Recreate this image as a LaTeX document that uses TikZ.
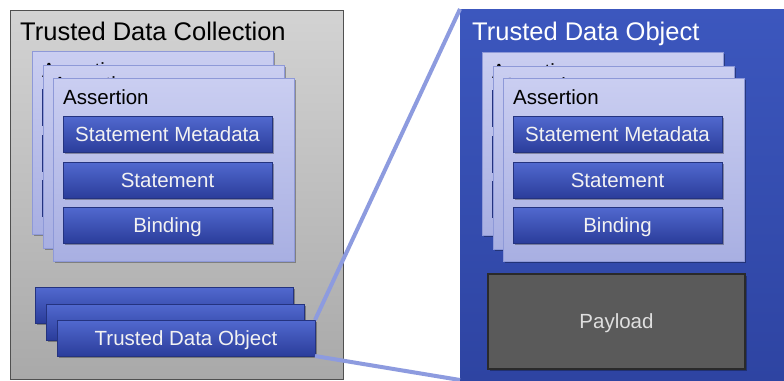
\documentclass[tikz,border=0pt]{standalone}
\usepackage{fontspec}
\setmainfont{Liberation Sans}
\usetikzlibrary{shadows}

\definecolor{grayTop}{HTML}{D3D3D3}
\definecolor{grayBot}{HTML}{A9A9A9}
\definecolor{grayEdge}{HTML}{505050}
\definecolor{blueTop}{HTML}{3C57BE}
\definecolor{blueBot}{HTML}{2E44A2}
\definecolor{cardTop}{HTML}{CACEF1}
\definecolor{cardBot}{HTML}{A8AFE2}
\definecolor{cardEdge}{HTML}{8E99D8}
\definecolor{barTop}{HTML}{5169CF}
\definecolor{barBot}{HTML}{2B3D9B}
\definecolor{barEdge}{HTML}{24337F}
\definecolor{zoomLine}{HTML}{8D9BDF}
\definecolor{payloadFill}{HTML}{5A5A5A}
\definecolor{payloadEdge}{HTML}{2A2A2A}
\definecolor{lightText}{HTML}{F2F2F2}

\tikzset{
  box/.style={anchor=north west, inner sep=0pt, outer sep=0pt},
  softshadow/.style={drop shadow={shadow xshift=1.5pt, shadow yshift=-1.5pt,
      opacity=0.3, fill=black}},
  card/.style={box, minimum width=241pt, minimum height=183pt, draw=cardEdge,
      line width=1pt, top color=cardTop, bottom color=cardBot, softshadow},
  bodytext/.style={font=\fontsize{20.5}{24}\selectfont},
  titletext/.style={font=\fontsize{25.5}{30}\selectfont, anchor=base west,
      inner sep=0pt},
  bar/.style={box, bodytext, minimum width=209pt, minimum height=36pt,
      draw=barEdge, line width=0.6pt, top color=barTop, bottom color=barBot,
      text=lightText, text height=14.7pt, text depth=0pt, softshadow},
  tdobar/.style={bar, minimum width=258pt},
  label/.style={bodytext, anchor=base west, inner sep=0pt, text=black},
  zoomline/.style={draw=zoomLine, line width=4pt}
}

% Bars carry their captions only on the topmost card of a stack
\newif\ifcaptions
% One assertion card: name, left, top
\newcommand\assertioncard[3]{%
  \node[card] (#1) at (#2,#3) {};
  \node[label] (#1-lbl) at ([xshift=10pt,yshift=-26pt]#1.north west) {Assertion};
  \node[bar] (#1-meta) at ([xshift=10pt,yshift=-38pt]#1.north west)
    {\ifcaptions Statement Metadata\fi};
  \node[bar] (#1-stmt) at ([xshift=10pt,yshift=-84pt]#1.north west)
    {\ifcaptions Statement\fi};
  \node[bar] (#1-bind) at ([xshift=10pt,yshift=-129pt]#1.north west)
    {\ifcaptions Binding\fi};
}

\begin{document}
\begin{tikzpicture}[x=1pt, y=-1pt]
\useasboundingbox (0,0) rectangle (784,380);
\fill[white] (0,0) rectangle (784,380);

% collection panel
\node[box, minimum width=333pt, minimum height=369pt, draw=grayEdge,
      line width=1pt, top color=grayTop, bottom color=grayBot] (tdc) at (10,10) {};
\node[titletext, text=black] (tdc-title) at (20,40) {Trusted Data Collection};

\captionsfalse
\assertioncard{la1}{32}{51}
\assertioncard{la2}{43}{65}
\captionstrue
\assertioncard{la3}{53}{78}

\node[tdobar] (tdo1) at (35,287) {};
\node[tdobar] (tdo2) at (46,304) {};
\node[tdobar] (tdo3) at (57,320) {Trusted Data Object};

% expanded object panel
\node[box, minimum width=324pt, minimum height=371pt,
      top color=blueTop, bottom color=blueBot] (tdo) at (460,9) {};
\node[titletext, text=white] (tdo-title) at (472,40) {Trusted Data Object};

\captionsfalse
\assertioncard{ra1}{482}{52}
\assertioncard{ra2}{493}{66}
\captionstrue
\assertioncard{ra3}{503}{78}

\node[box, bodytext, minimum width=257pt, minimum height=95pt,
      fill=payloadFill, draw=payloadEdge, line width=1.2pt,
      text height=14.7pt, text depth=0pt,
      text=lightText!92!black, softshadow] (payload) at (488,274) {Payload};

% zoom connectors
\draw[zoomline] (tdo3.north east) -- (tdo.north west);
\draw[zoomline] (tdo3.south east) -- (tdo.south west);
\end{tikzpicture}
\end{document}
